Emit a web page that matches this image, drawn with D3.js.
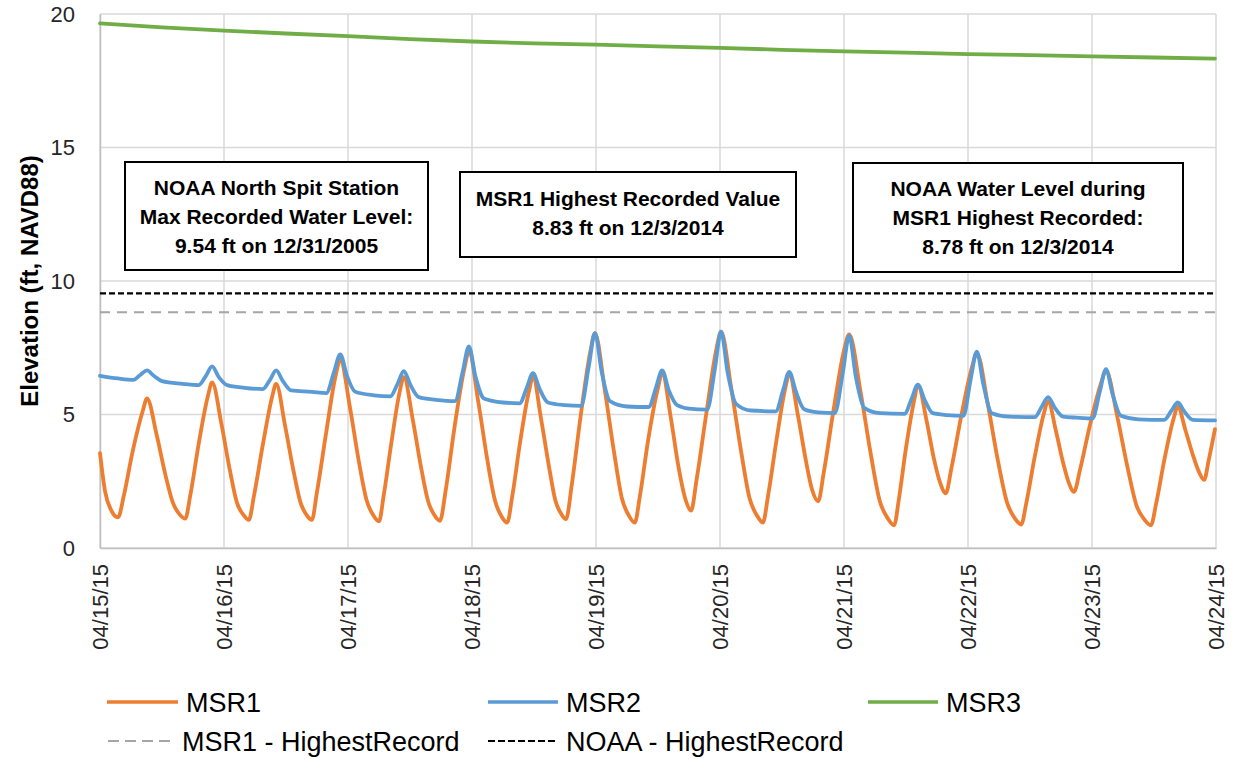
<!DOCTYPE html>
<html>
<head>
<meta charset="utf-8">
<script src="https://cdn.jsdelivr.net/npm/d3@7"></script>
<style>
  html, body { margin: 0; padding: 0; background: #fff; }
  svg { display: block; font-family: "Liberation Sans", Arial, sans-serif; }
</style>
</head>
<body>
<svg id="chart" width="1238" height="759"></svg>
<script>
// ---------------- DATA ----------------
// time in hours since 04/15/15 00:00
const dayLabels = ["04/15/15","04/16/15","04/17/15","04/18/15","04/19/15","04/20/15","04/21/15","04/22/15","04/23/15","04/24/15"];
const yTicks = [0, 5, 10, 15, 20];

const msr1Hours = [
  0,1.0,2.2,2.9,3.5,4.6,6.3,8.3,
  9.1,10.95,12.65,14.1,15.45,16.5,17.5,19.1,20.9,
  21.7,23.5,25.1,26.5,27.8,28.8,29.8,31.5,33.3,
  34.1,35.8,37.4,38.8,40.0,41.0,42.0,43.8,45.6,
  46.5,48.4,50.1,51.6,52.95,54.0,54.9,56.4,58.0,
  58.8,60.55,62.15,63.55,64.8,65.8,66.9,68.6,70.5,
  71.4,73.25,74.95,76.45,77.75,78.8,79.8,81.3,83.0,
  83.8,85.4,86.9,88.15,89.3,90.2,91.3,93.0,94.9,
  95.8,97.7,99.5,101.0,102.4,103.5,104.5,106.1,108.0,
  108.8,110.5,112.0,113.2,114.4,115.5,117.4,119.3,
  120.2,122.2,124.1,125.7,127.2,128.3,129.3,130.9,132.6,
  133.4,135.1,136.6,137.8,139.0,140.1,142.0,144.0,
  145.0,147.2,149.2,150.9,152.5,153.7,154.6,156.0,157.6,
  158.3,160.0,161.4,162.6,163.7,164.8,166.7,168.8,
  169.7,171.85,173.8,175.55,177.1,178.3,179.3,180.9,182.7,
  183.5,185.0,186.4,187.5,188.5,189.7,191.6,193.8,
  194.7,196.9,198.9,200.6,202.2,203.4,204.4,206.0,207.8,
  208.6,210.1,211.5,212.7,213.7,214.6,215.8];
const msr1Values = [
  3.55,2.1,1.4,1.2,1.15,1.95,3.6,5.15,
  5.6,4.25,2.75,1.7,1.25,1.1,2.0,3.9,5.7,
  6.2,4.65,2.95,1.7,1.23,1.05,1.95,3.85,5.65,
  6.15,4.6,2.94,1.71,1.23,1.05,2.1,4.35,6.45,
  7.05,5.24,3.24,1.79,1.21,1.0,1.95,3.95,5.85,
  6.4,4.79,3.01,1.72,1.21,1.02,2.15,4.5,6.7,
  7.35,5.43,3.32,1.78,1.17,0.95,1.95,3.95,5.85,
  6.4,4.8,3.05,1.77,1.27,1.08,2.35,4.9,7.35,
  8.05,5.92,3.58,1.87,1.2,0.95,1.95,4.05,6.0,
  6.55,4.85,3.0,1.9,1.4,2.6,5.1,7.45,
  8.1,5.96,3.6,1.88,1.2,0.95,1.95,4.0,5.95,
  6.5,4.95,3.3,2.2,1.75,2.85,5.2,7.4,
  8.0,5.86,3.5,1.78,1.1,0.85,1.8,3.75,5.55,
  6.1,4.75,3.35,2.45,2.05,3.0,4.95,6.8,
  7.3,5.37,3.26,1.71,1.1,0.88,1.7,3.4,5.05,
  5.5,4.4,3.2,2.45,2.1,2.95,4.6,6.2,
  6.65,4.91,3.0,1.6,1.05,0.85,1.65,3.3,4.85,
  5.3,4.4,3.5,2.85,2.55,3.3,4.45];

const msr2Hours = [0,3.5,6.5,7.9,9.1,10.4,12.0,16.0,19.1,20.5,21.7,23.0,24.6,28.0,31.5,32.9,34.1,35.4,37.0,41.0,43.8,45.3,46.5,47.8,49.4,53.0,56.2,57.6,58.8,60.1,61.7,65.0,68.7,70.2,71.4,72.7,74.3,78.0,81.2,82.6,83.8,85.1,86.7,90.0,93.1,94.6,95.8,97.1,98.7,102.0,106.2,107.6,108.8,110.1,111.7,114.0,117.5,119.0,120.2,121.5,123.1,126.0,130.8,132.2,133.4,134.7,136.3,139.0,142.2,143.8,145.0,146.3,147.9,151.0,155.7,157.1,158.3,159.6,161.2,164.0,167.1,168.5,169.7,171.0,172.6,176.0,180.9,182.3,183.5,184.8,186.4,189.0,192.1,193.5,194.7,196.0,197.6,201.0,206.0,207.4,208.6,209.9,211.5,215.8];
const msr2Values = [6.45,6.35,6.3,6.5,6.65,6.45,6.25,6.15,6.1,6.45,6.8,6.4,6.1,6.0,5.95,6.3,6.65,6.25,5.9,5.85,5.8,6.6,7.25,6.45,5.85,5.72,5.68,6.15,6.62,6.1,5.65,5.55,5.5,6.6,7.55,6.4,5.6,5.45,5.42,6.0,6.55,5.95,5.45,5.35,5.32,6.8,8.05,6.6,5.5,5.3,5.28,6.0,6.65,5.9,5.35,5.22,5.18,6.7,8.1,6.55,5.4,5.15,5.12,5.9,6.6,5.85,5.2,5.08,5.05,6.6,7.95,6.4,5.25,5.05,5.02,5.6,6.12,5.55,5.05,4.98,4.95,6.3,7.35,6.1,5.05,4.92,4.9,5.3,5.65,5.25,4.92,4.88,4.85,5.85,6.7,5.75,4.95,4.82,4.8,5.15,5.45,5.1,4.8,4.78];

const msr3Hours = [0,12,24,36,48,60,72,84,96,108,120,132,144,156,168,180,192,204,215.8];
const msr3Values = [19.65,19.5,19.38,19.27,19.17,19.06,18.97,18.9,18.85,18.79,18.73,18.66,18.6,18.55,18.5,18.46,18.41,18.37,18.33];

const msr1HighestRecord = 8.83;
const noaaHighestRecord = 9.54;

const seriesNames = ["MSR1", "MSR2", "MSR3", "MSR1 - HighestRecord", "NOAA - HighestRecord"];

const noteNoaaMax = ["NOAA North Spit Station", "Max Recorded Water Level:", "9.54 ft on 12/31/2005"];
const noteMsr1Max = ["MSR1 Highest Recorded Value", "8.83 ft on 12/3/2014"];
const noteNoaaDuring = ["NOAA Water Level during", "MSR1 Highest Recorded:", "8.78 ft on 12/3/2014"];

// ---------------- LAYOUT ----------------
const W = 1238, H = 759;
const M = { left: 100, right: 22, top: 14, bottom: 211 };
const pw = W - M.left - M.right, ph = H - M.top - M.bottom;

const colors = { msr1: "#ED7D31", msr2: "#5B9BD5", msr3: "#70AD47", grayRef: "#A5A5A5", blackRef: "#000000" };

const svg = d3.select("#chart");
const g = svg.append("g").attr("transform", `translate(${M.left},${M.top})`);

const x = d3.scaleLinear().domain([0, 216]).range([0, pw]);
const y = d3.scaleLinear().domain([0, 20]).range([ph, 0]);
const dayTicks = dayLabels.map((d, i) => i * 24);

// gridlines
g.append("g").selectAll("line").data(yTicks).join("line")
  .attr("x1", 0).attr("x2", pw).attr("y1", d => y(d)).attr("y2", d => y(d))
  .attr("stroke", "#D9D9D9").attr("stroke-width", 1.5);
g.append("g").selectAll("line").data(dayTicks).join("line")
  .attr("x1", d => x(d)).attr("x2", d => x(d)).attr("y1", 0).attr("y2", ph)
  .attr("stroke", "#D9D9D9").attr("stroke-width", 1.5);

// axes
const yAxis = g.append("g").call(d3.axisLeft(y).tickValues(yTicks).tickSize(0).tickPadding(25));
yAxis.select(".domain").attr("stroke", "#BFBFBF").attr("stroke-width", 1.5);
yAxis.selectAll("text").attr("font-size", 22).attr("fill", "#262626").attr("font-family", "Liberation Sans, Arial, sans-serif");

const xAxis = g.append("g").attr("transform", `translate(0,${ph})`)
  .call(d3.axisBottom(x).tickValues(dayTicks).tickFormat((d, i) => dayLabels[i]).tickSize(0));
xAxis.select(".domain").attr("stroke", "#BFBFBF").attr("stroke-width", 1.5);
xAxis.selectAll("text")
  .attr("font-size", 22).attr("fill", "#262626").attr("font-family", "Liberation Sans, Arial, sans-serif")
  .attr("transform", "rotate(-90)")
  .attr("text-anchor", "end")
  .attr("x", -16).attr("y", 0).attr("dy", "0.35em");

// y label
svg.append("text")
  .attr("transform", `translate(30,${M.top + ph / 2}) rotate(-90)`)
  .attr("text-anchor", "middle").attr("dy", "0.35em")
  .attr("font-size", 24).attr("font-weight", "bold").attr("fill", "#000")
  .text("Elevation (ft, NAVD88)");

// reference lines
g.append("line").attr("x1", 0).attr("x2", pw)
  .attr("y1", y(msr1HighestRecord)).attr("y2", y(msr1HighestRecord))
  .attr("stroke", colors.grayRef).attr("stroke-width", 2.2).attr("stroke-dasharray", "10,7");
g.append("line").attr("x1", 0).attr("x2", pw)
  .attr("y1", y(noaaHighestRecord)).attr("y2", y(noaaHighestRecord))
  .attr("stroke", colors.blackRef).attr("stroke-width", 2.2).attr("stroke-dasharray", "6,3");

// series lines
function drawSeries(hours, values, color, curve) {
  const pts = hours.map((h, i) => [h, values[i]]);
  const line = d3.line().x(d => x(d[0])).y(d => y(d[1])).curve(curve);
  g.append("path").datum(pts).attr("d", line)
    .attr("fill", "none").attr("stroke", color).attr("stroke-width", 3.8)
    .attr("stroke-linejoin", "round").attr("stroke-linecap", "round");
}
drawSeries(msr1Hours, msr1Values, colors.msr1, d3.curveMonotoneX);
drawSeries(msr2Hours, msr2Values, colors.msr2, d3.curveMonotoneX);
drawSeries(msr3Hours, msr3Values, colors.msr3, d3.curveLinear);

// annotation boxes
function noteBox(lines, bx, by, bw, bh, firstBaseline) {
  svg.append("rect").attr("x", bx).attr("y", by).attr("width", bw).attr("height", bh)
    .attr("fill", "#fff").attr("stroke", "#000").attr("stroke-width", 2);
  svg.append("g").selectAll("text").data(lines).join("text")
    .attr("x", bx + bw / 2).attr("y", (d, i) => by + firstBaseline + i * 29)
    .attr("text-anchor", "middle").attr("font-size", 21).attr("font-weight", "bold").attr("fill", "#000")
    .text(d => d);
}
noteBox(noteNoaaMax, 125, 162, 303, 108, 33);
noteBox(noteMsr1Max, 460, 172, 336, 85, 34);
noteBox(noteNoaaDuring, 853, 163, 330, 109, 33);

// legend
const legendItems = [
  { name: seriesNames[0], color: colors.msr1, dash: null, w: 3.5, x: 107, y: 702, len: 71 },
  { name: seriesNames[1], color: colors.msr2, dash: null, w: 3.5, x: 488, y: 702, len: 70 },
  { name: seriesNames[2], color: colors.msr3, dash: null, w: 3.5, x: 868, y: 702, len: 70 },
  { name: seriesNames[3], color: colors.grayRef, dash: "11,6", w: 2, x: 108, y: 741, len: 66 },
  { name: seriesNames[4], color: colors.blackRef, dash: "7,3", w: 2, x: 488, y: 741, len: 70 }
];
const lg = svg.append("g");
legendItems.forEach(it => {
  lg.append("line").attr("x1", it.x).attr("x2", it.x + it.len).attr("y1", it.y).attr("y2", it.y)
    .attr("stroke", it.color).attr("stroke-width", it.w).attr("stroke-dasharray", it.dash);
  lg.append("text").attr("x", it.x + it.len + 8).attr("y", it.y + 10)
    .attr("font-size", 27).attr("fill", "#000").text(it.name);
});
</script>
</body>
</html>
